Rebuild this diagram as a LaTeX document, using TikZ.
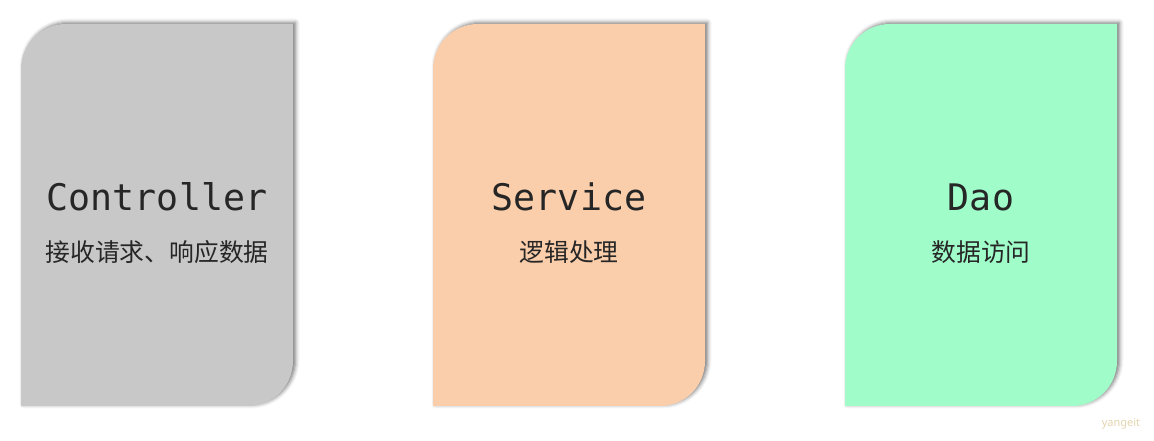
\documentclass[tikz,border=0pt]{standalone}
\usepackage{fontspec}
\setmonofont{DejaVu Sans Mono}
\newfontfamily\cjk{Noto Sans CJK SC}
\newfontfamily\marksans{Noto Sans}
\usetikzlibrary{shadows.blur}

\definecolor{ctrlgray}{RGB}{200,200,200}
\definecolor{servorange}{RGB}{251,206,171}
\definecolor{daogreen}{RGB}{160,253,202}
\definecolor{labelink}{RGB}{38,38,38}
\definecolor{markink}{RGB}{228,212,175}

\tikzset{
  layercard/.style={blur shadow={shadow xshift=2.5pt,shadow yshift=1.5pt,shadow blur radius=4pt,shadow opacity=55}},
  layertitle/.style={text=labelink,font=\ttfamily\fontsize{36.6}{40}\selectfont},
  layertask/.style={text=labelink,font=\cjk\fontsize{24.8}{28}\selectfont}
}

\begin{document}
\begin{tikzpicture}[x=1pt,y=1pt]
   	\useasboundingbox (0,0) rectangle (1154,441);
   	
   	%controller card
   	\fill [ctrlgray,layercard] (21,35) -- (21,372) arc[start angle=180,end angle=90,radius=45] -- (293,417) -- (293,80) arc[start angle=0,end angle=-90,radius=45] -- cycle;
   	\node [layertitle] (ctrl) at (157,244) {Controller};
   	\node [layertask] (ctrltask) at (157,189) {接收请求、响应数据};
   	
   	%service card
   	\fill [servorange,layercard] (433,35) -- (433,372) arc[start angle=180,end angle=90,radius=45] -- (705,417) -- (705,80) arc[start angle=0,end angle=-90,radius=45] -- cycle;
   	\node [layertitle] (serv) at (569,244) {Service};
   	\node [layertask] (servtask) at (569,189) {逻辑处理};
   	
   	%dao card
   	\fill [daogreen,layercard] (845,35) -- (845,372) arc[start angle=180,end angle=90,radius=45] -- (1117,417) -- (1117,80) arc[start angle=0,end angle=-90,radius=45] -- cycle;
   	\node [layertitle] (dao) at (981,244) {Dao};
   	\node [layertask] (daotask) at (981,189) {数据访问};
   	
   	\node [text=markink,font=\marksans\fontsize{11}{13}\selectfont] (mark) at (1121,17) {yangeit};
\end{tikzpicture}
\end{document}
